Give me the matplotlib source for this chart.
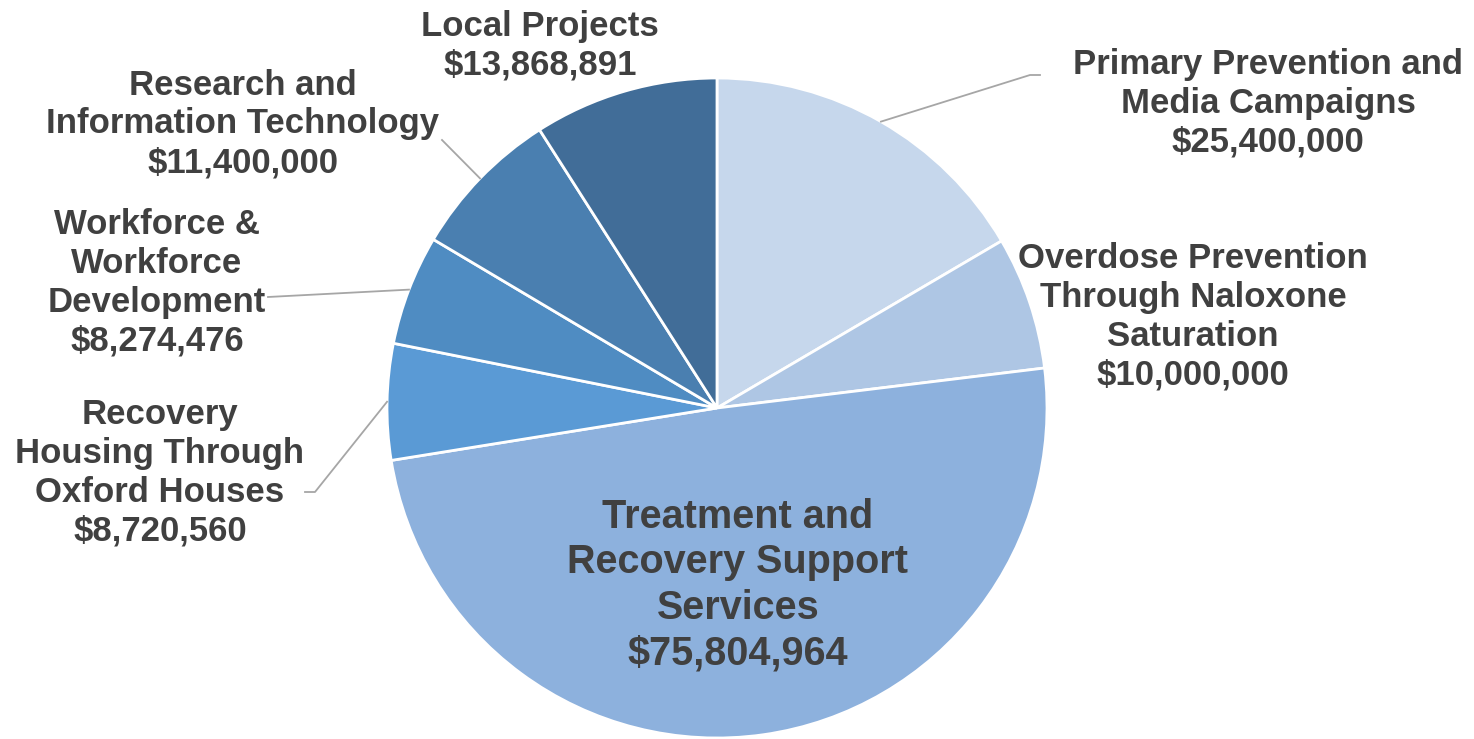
import matplotlib.pyplot as plt
import numpy as np

plt.rcParams['font.family'] = ['Liberation Sans', 'DejaVu Sans']

# budget slices, clockwise from 12 o'clock
labels = ['Primary Prevention and\nMedia Campaigns',
          'Overdose Prevention\nThrough Naloxone\nSaturation',
          'Treatment and\nRecovery Support\nServices',
          'Recovery\nHousing Through\nOxford Houses',
          'Workforce &\nWorkforce\nDevelopment',
          'Research and\nInformation Technology',
          'Local Projects']
values = [25400000, 10000000, 75804964, 8720560, 8274476, 11400000, 13868891]
colors = ['#C6D7EC', '#AEC6E4', '#8DB1DD', '#5A9AD5', '#4F8CC2', '#4A7FB0', '#416D98']

W, H = 1474, 739
cx, cy, R = 717, 408, 330
txt = '#404040'

fig = plt.figure(figsize=(W / 100, H / 100), dpi=100)
ax = fig.add_axes([0, 0, 1, 1])
wedges, _ = ax.pie(values, colors=colors, center=(cx, H - cy), radius=R,
                   startangle=90, counterclock=False,
                   wedgeprops=dict(edgecolor='white', linewidth=2))
ax.set_xlim(0, W)
ax.set_ylim(0, H)
ax.axis('off')

# label centres (pixels from top-left), font size, line spacing
label_pos = [(1268, 103, 25, 1.23), (1193, 317, 25, 1.23), (738, 585, 28.5, 1.25),
             (160, 473, 25, 1.23), (157, 283, 25, 1.23), (243, 124, 25, 1.23),
             (540, 46, 25, 1.23)]
# leader elbow points
leaders = {0: [(1030, 75), (1040, 75)],
           3: [(315, 492), (305, 492)],
           4: [(268, 297)],
           5: [(442, 140)]}

for i, (lab, v) in enumerate(zip(labels, values)):
    x, y, fs, ls = label_pos[i]
    ax.text(x, H - y, '%s\n${:,}'.format(v) % lab, ha='center', va='center',
            fontsize=fs, fontweight='bold', color=txt, linespacing=ls)
    if i in leaders:
        w = wedges[i]
        ang = np.deg2rad((w.theta1 + w.theta2) / 2)
        xs = [cx + R * np.cos(ang)] + [p[0] for p in leaders[i]]
        ys = [H - cy + R * np.sin(ang)] + [H - p[1] for p in leaders[i]]
        ax.plot(xs, ys, color='#A6A6A6', lw=1.3)

fig.savefig('out.png', dpi=100)
